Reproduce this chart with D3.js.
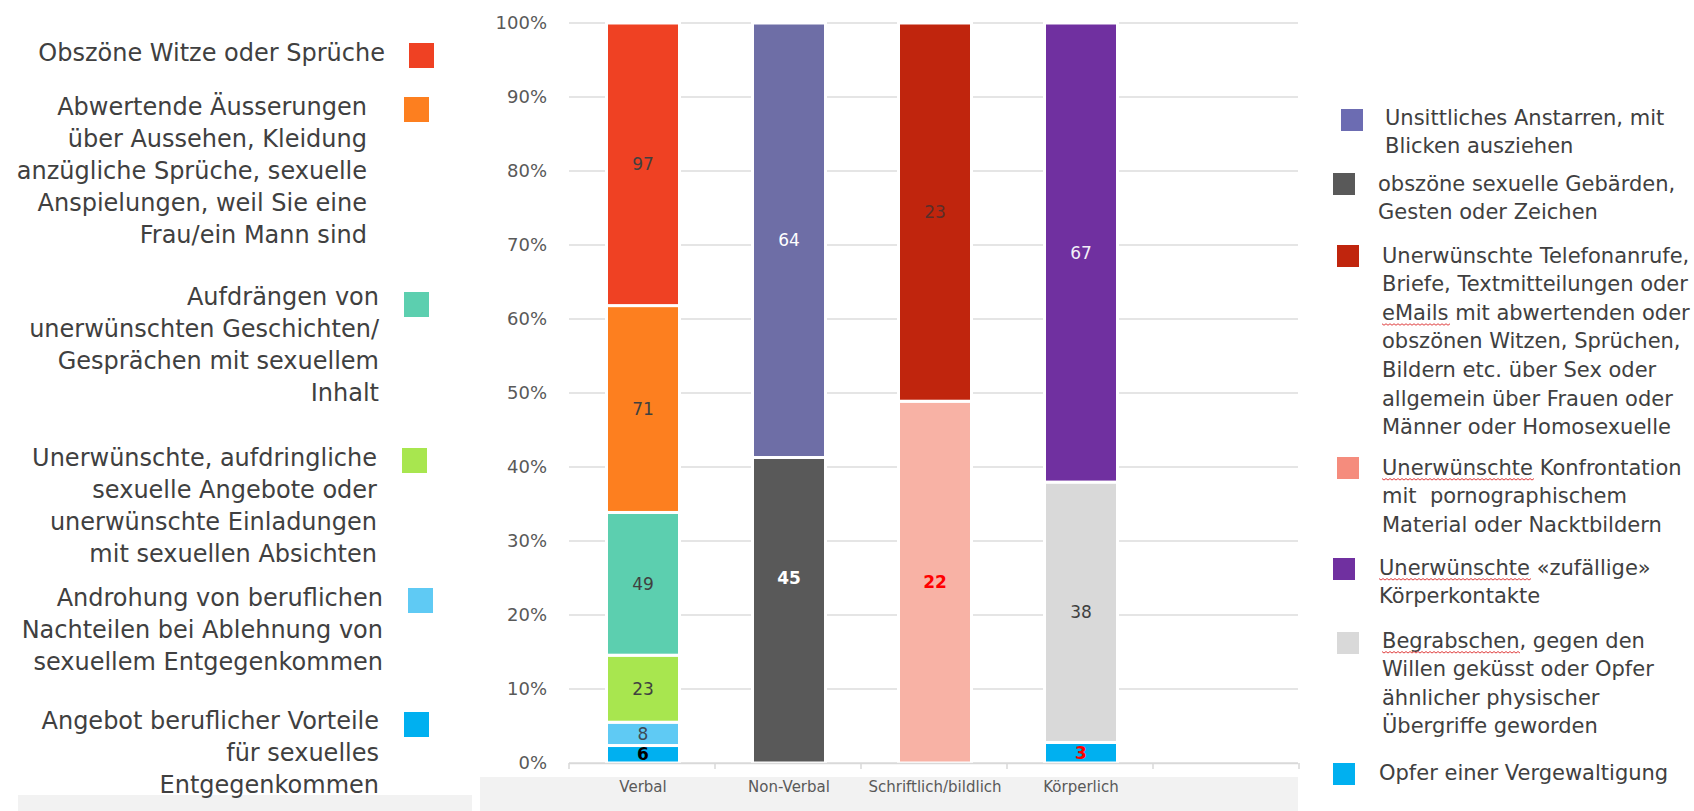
<!DOCTYPE html>
<html>
<head>
<meta charset="utf-8">
<script src="https://cdn.jsdelivr.net/npm/d3@7"></script>
<style>
  html, body { margin: 0; padding: 0; background: #ffffff; }
  svg { display: block; }
  text { font-family: "DejaVu Sans", Verdana, sans-serif; }
</style>
</head>
<body>
<svg id="chart" width="1694" height="811"></svg>
<script>
// ---------------- DATA ----------------
const categories = ["Verbal", "Non-Verbal", "Schriftlich/bildlich", "Körperlich"];

const seriesNames = [
  "Obszöne Witze oder Sprüche",
  "Abwertende Äusserungen\nüber Aussehen, Kleidung\nanzügliche Sprüche, sexuelle\nAnspielungen, weil Sie eine\nFrau/ein Mann sind",
  "Aufdrängen von\nunerwünschten Geschichten/\nGesprächen mit sexuellem\nInhalt",
  "Unerwünschte, aufdringliche\nsexuelle Angebote oder\nunerwünschte Einladungen\nmit sexuellen Absichten",
  "Androhung von beruflichen\nNachteilen bei Ablehnung von\nsexuellem Entgegenkommen",
  "Angebot beruflicher Vorteile\nfür sexuelles\nEntgegenkommen",
  "Unsittliches Anstarren, mit\nBlicken ausziehen",
  "obszöne sexuelle Gebärden,\nGesten oder Zeichen",
  "Unerwünschte Telefonanrufe,\nBriefe, Textmitteilungen oder\neMails mit abwertenden oder\nobszönen Witzen, Sprüchen,\nBildern etc. über Sex oder\nallgemein über Frauen oder\nMänner oder Homosexuelle",
  "Unerwünschte Konfrontation\nmit  pornographischem\nMaterial oder Nacktbildern",
  "Unerwünschte «zufällige»\nKörperkontakte",
  "Begrabschen, gegen den\nWillen geküsst oder Opfer\nähnlicher physischer\nÜbergriffe geworden",
  "Opfer einer Vergewaltigung"
];
const seriesCategory = [0, 0, 0, 0, 0, 0, 1, 1, 2, 2, 3, 3, 3];
const seriesValues   = [97, 71, 49, 23, 8, 6, 64, 45, 23, 22, 67, 38, 3];

const yTickValues = [0, 0.1, 0.2, 0.3, 0.4, 0.5, 0.6, 0.7, 0.8, 0.9, 1.0];

// ---------------- STYLES ----------------
const seriesColors = [
  "#ef4123", "#fd7f1f", "#5ccfaf", "#a8e64f", "#5fcaf4", "#00b0f0",
  "#6e6ea6", "#595959", "#c0250d", "#f8b2a5", "#7030a0", "#d9d9d9", "#00b0f0"
];
const legendSwatchOverride = {6: "#6c6cb2", 9: "#f58c7d"};
const labelStyles = [
  {fill: "#404040", w: "normal"}, {fill: "#404040", w: "normal"}, {fill: "#404040", w: "normal"},
  {fill: "#404040", w: "normal"}, {fill: "#3d4a55", w: "normal"}, {fill: "#000000", w: "bold"},
  {fill: "#ffffff", w: "normal"}, {fill: "#ffffff", w: "bold"},
  {fill: "#5a2e28", w: "normal"}, {fill: "#ff0000", w: "bold"},
  {fill: "#f4f0f8", w: "normal"}, {fill: "#404040", w: "normal"}, {fill: "#ff0000", w: "bold"}
];
const labelOffsetY = {7: -32};
// legend layout: [series index, text x, first line y, swatch x, swatch y]
const leftLegendLayout = [
  [0, 385, 52, 409, 43],
  [1, 367, 106, 404, 97],
  [2, 379, 296, 404, 292],
  [3, 377, 457, 402, 448],
  [4, 383, 597, 408, 588],
  [5, 379, 720, 404, 712]
];
const rightLegendLayout = [
  [6, 1385, 117, 1341, 109],
  [7, 1378, 183, 1333, 173],
  [8, 1382, 255, 1337, 245],
  [9, 1382, 467, 1337, 457],
  [10, 1379, 567, 1333, 558],
  [11, 1382, 640, 1337, 632],
  [12, 1379, 772, 1333, 763]
];
// words with a spell-check squiggle: [series index, line index, word]
const squiggles = [[8, 2, "eMails"], [9, 0, "Unerwünschte"], [10, 0, "Unerwünschte"], [11, 0, "Begrabschen"]];

// ---------------- CHART ----------------
const svg = d3.select("#chart");

// grey bands at the bottom
svg.append("rect").attr("x", 18).attr("y", 795).attr("width", 454).attr("height", 16).attr("fill", "#f2f2f2");
svg.append("rect").attr("x", 480).attr("y", 777).attr("width", 818).attr("height", 34).attr("fill", "#f2f2f2");

const y = d3.scaleLinear().domain([0, 1]).range([763, 23]);
const x = d3.scaleBand().domain([...categories, ""]).range([570, 1300]).padding(0);

// gridlines
svg.append("g").selectAll("line").data(yTickValues).join("line")
  .attr("x1", 569).attr("x2", 1298)
  .attr("y1", d => y(d)).attr("y2", d => y(d))
  .attr("stroke", "#dcdcdc").attr("stroke-width", 1.6);

// stacked data (100%)
const table = categories.map((c, ci) => {
  const row = {cat: c};
  seriesNames.forEach((s, si) => { row[si] = seriesCategory[si] === ci ? seriesValues[si] : 0; });
  return row;
});
const keys = seriesNames.map((s, i) => i).reverse();
const stacked = d3.stack().keys(keys).offset(d3.stackOffsetExpand)(table);

const barW = 73;
const segs = [];
stacked.forEach(layer => {
  const si = +layer.key;
  layer.forEach(d => {
    if (d[1] - d[0] > 0) segs.push({si, cat: d.data.cat, y0: d[0], y1: d[1]});
  });
});

const gBars = svg.append("g");
gBars.selectAll("rect").data(segs).join("rect")
  .attr("x", d => x(d.cat) + x.bandwidth() / 2 - barW / 2)
  .attr("width", barW)
  .attr("y", d => y(d.y1))
  .attr("height", d => y(d.y0) - y(d.y1))
  .attr("fill", d => seriesColors[d.si])
  .attr("stroke", "#ffffff").attr("stroke-width", 3);

// baseline
svg.append("g").selectAll("line").data([0]).join("line")
  .attr("x1", 569).attr("x2", 1298).attr("y1", y(0) + 0.5).attr("y2", y(0) + 0.5)
  .attr("stroke", "#d9d9d9").attr("stroke-width", 1.6);

// value labels
svg.append("g").selectAll("text").data(segs).join("text")
  .attr("x", d => x(d.cat) + x.bandwidth() / 2)
  .attr("y", d => y((d.y0 + d.y1) / 2) + (labelOffsetY[d.si] || 0))
  .attr("dy", "0.36em")
  .attr("text-anchor", "middle")
  .attr("font-size", 17)
  .attr("font-weight", d => labelStyles[d.si].w)
  .attr("fill", d => labelStyles[d.si].fill)
  .text(d => seriesValues[d.si]);

// x axis tick marks at band boundaries
const boundaries = [...x.domain().map(d => x(d)), x.range()[1]];
svg.append("g").selectAll("line").data(boundaries).join("line")
  .attr("x1", d => d - 1).attr("x2", d => d - 1)
  .attr("y1", y(0)).attr("y2", y(0) + 6)
  .attr("stroke", "#d9d9d9").attr("stroke-width", 1.5);

// category labels
svg.append("g").selectAll("text").data(categories).join("text")
  .attr("x", d => x(d) + x.bandwidth() / 2)
  .attr("y", 787).attr("dy", "0.35em")
  .attr("text-anchor", "middle")
  .attr("font-size", 15)
  .attr("fill", "#595959")
  .text(d => d);

// y tick labels
svg.append("g").selectAll("text").data(yTickValues).join("text")
  .attr("x", 547).attr("y", d => y(d)).attr("dy", "0.36em")
  .attr("text-anchor", "end")
  .attr("font-size", 18)
  .attr("fill", "#595959")
  .text(d => d3.format(".0%")(d));

// ---------------- LEGENDS ----------------
function drawLegend(layout, anchor, fontSize, lineH, swSize) {
  const g = svg.append("g");
  layout.forEach(([si, tx, ty, sx, sy]) => {
    g.append("rect").attr("x", sx).attr("y", sy).attr("width", swSize).attr("height", swSize)
      .attr("fill", legendSwatchOverride[si] || seriesColors[si]);
    const lines = seriesNames[si].split("\n");
    lines.forEach((ln, li) => {
      g.append("text")
        .attr("x", tx).attr("y", ty + li * lineH).attr("dy", "0.36em")
        .attr("text-anchor", anchor)
        .attr("font-size", fontSize)
        .attr("fill", "#404040")
        .style("white-space", "pre")
        .text(ln);
      squiggles.filter(q => q[0] === si && q[1] === li).forEach(q => {
        const tmp = g.append("text").attr("font-size", fontSize).style("white-space", "pre")
          .attr("x", -1000).attr("y", -1000).text(q[2]);
        const wWord = tmp.node().getComputedTextLength();
        tmp.remove();
        const start = tx;
        const yy = ty + li * lineH + fontSize * 0.55;
        let p = `M${start},${yy}`;
        for (let xx = start, k = 0; xx < start + wWord; xx += 2, k++) {
          p += ` L${xx + 2},${yy + (k % 2 === 0 ? 1.5 : 0)}`;
        }
        g.append("path").attr("d", p).attr("fill", "none").attr("stroke", "#e04040").attr("stroke-width", 1);
      });
    });
  });
}
drawLegend(leftLegendLayout, "end", 24, 32, 25);
drawLegend(rightLegendLayout, "start", 21, 28.6, 22);
</script>
</body>
</html>
